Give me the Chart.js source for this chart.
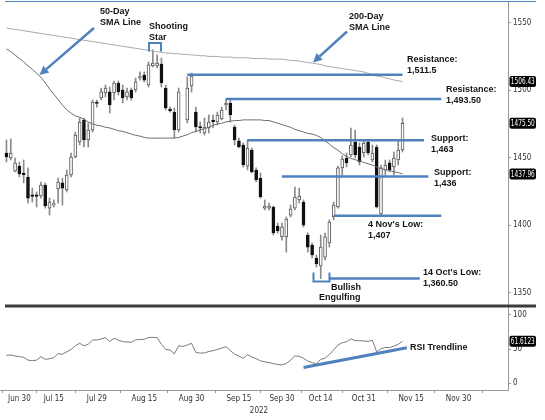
<!DOCTYPE html>
<html>
<head>
<meta charset="utf-8">
<script src="https://cdn.jsdelivr.net/npm/chart.js@4.4.0/dist/chart.umd.min.js"></script>
<style>
  html, body { margin: 0; padding: 0; background: #fff; }
  canvas { display: block; }
</style>
</head>
<body>
<canvas id="chart" width="545" height="420"></canvas>
<script>
// trading days with a candle
const days = [
  'Jun 27', 'Jun 28', 'Jun 29', 'Jun 30', 'Jul 1', 'Jul 5', 'Jul 6', 'Jul 7', 'Jul 8', 'Jul 12',
  'Jul 13', 'Jul 15', 'Jul 18', 'Jul 19', 'Jul 20', 'Jul 21', 'Jul 22', 'Jul 25', 'Jul 26', 'Jul 27',
  'Jul 28', 'Jul 29', 'Aug 1', 'Aug 2', 'Aug 3', 'Aug 4', 'Aug 5', 'Aug 8', 'Aug 9', 'Aug 10',
  'Aug 11', 'Aug 12', 'Aug 15', 'Aug 16', 'Aug 17', 'Aug 18', 'Aug 19', 'Aug 22', 'Aug 23', 'Aug 24',
  'Aug 25', 'Aug 26', 'Aug 29', 'Aug 30', 'Aug 31', 'Sep 1', 'Sep 2', 'Sep 6', 'Sep 7', 'Sep 8',
  'Sep 9', 'Sep 12', 'Sep 13', 'Sep 14', 'Sep 15', 'Sep 16', 'Sep 19', 'Sep 20', 'Sep 21', 'Sep 22',
  'Sep 23', 'Sep 26', 'Sep 27', 'Sep 28', 'Sep 30', 'Oct 3', 'Oct 4', 'Oct 5', 'Oct 6', 'Oct 7',
  'Oct 11', 'Oct 12', 'Oct 13', 'Oct 14', 'Oct 17', 'Oct 18', 'Oct 19', 'Oct 20', 'Oct 21', 'Oct 25',
  'Oct 26', 'Oct 27', 'Oct 28', 'Oct 31', 'Nov 1', 'Nov 2', 'Nov 3', 'Nov 4', 'Nov 7', 'Nov 8',
  'Nov 9', 'Nov 10', 'Nov 11'
];
// empty room on the axis
const futureDays = [
  'Nov 14', 'Nov 15', 'Nov 16', 'Nov 17', 'Nov 18', 'Nov 21', 'Nov 22', 'Nov 23', 'Nov 24', 'Nov 25',
  'Nov 28', 'Nov 29', 'Nov 30', 'Dec 1', 'Dec 2', 'Dec 5', 'Dec 6', 'Dec 7', 'Dec 8', 'Dec 9',
  'Dec 12', 'Dec 13', 'Dec 14', 'Dec 15'
];

const open = [
  1453.5, 1449.8, 1440.1, 1443.8, 1437.9, 1435.7, 1421.6, 1421.6, 1421.6, 1429.8,
  1412.7, 1414.9, 1426.8, 1431.3, 1426.1, 1437.2, 1450.5, 1461.6, 1477.9, 1463.1,
  1470.5, 1490.5, 1494.2, 1497.9, 1498.7, 1497.9, 1505.3, 1500.1, 1495.0, 1500.1,
  1500.1, 1509.0, 1511.2, 1503.8, 1517.9, 1517.9, 1519.4, 1501.6, 1485.3, 1483.8,
  1470.5, null, 1477.9, 1503.1, 1483.8, 1472.7, 1468.3, 1472.0, 1477.9, 1476.4,
  1478.7, 1489.0, 1490.5, 1472.7, 1462.4, 1459.4, 1443.8, 1455.7, 1440.9, 1434.9,
  1412.7, 1412.7, 1413.5, 1399.4, 1391.3, 1391.3, 1407.5, 1412.7, 1418.7, 1417.2,
  1392.7, 1385.3, 1375.7, 1369.8, 1376.4, 1386.8, 1406.1, 1413.5, 1442.4, 1449.8,
  1452.0, 1461.6, 1457.9, 1453.5, 1461.6, 1448.3, 1457.9, 1408.3, 1440.9, 1446.1,
  1443.1, 1448.3, 1455.7
];
const high = [
  1463.1, 1463.8, 1449.8, 1446.8, 1448.3, 1442.4, 1427.5, 1424.6, 1432.0, 1431.3,
  1420.1, 1418.7, 1434.9, 1434.9, 1440.9, 1453.5, 1469.0, 1479.4, 1479.4, 1475.7,
  1492.7, 1492.7, 1501.6, 1503.8, 1502.4, 1506.8, 1506.8, 1503.8, 1501.6, 1501.6,
  1509.0, 1513.5, 1513.5, 1520.9, 1529.8, 1526.1, 1523.8, 1503.8, 1487.5, 1486.8,
  1501.6, null, 1509.8, 1512.7, 1487.5, 1476.4, 1479.4, 1481.6, 1481.6, 1483.8,
  1487.5, 1493.5, 1492.7, 1474.2, 1464.6, 1460.9, 1463.1, 1457.2, 1442.4, 1438.7,
  1418.7, 1416.4, 1414.2, 1401.6, 1401.6, 1406.1, 1414.9, 1428.3, 1427.5, 1418.7,
  1394.2, 1386.8, 1377.9, 1392.7, 1394.2, 1403.9, 1417.2, 1443.8, 1451.3, 1453.5,
  1472.0, 1470.5, 1460.9, 1463.1, 1463.1, 1459.4, 1459.4, 1444.6, 1448.3, 1448.3,
  1454.2, 1463.1, 1479.4
];
const low = [
  1446.8, 1448.3, 1439.4, 1435.7, 1431.3, 1416.4, 1417.2, 1413.5, 1420.1, 1412.7,
  1407.5, 1413.5, 1416.4, 1414.9, 1424.6, 1435.7, 1449.8, 1459.4, 1457.9, 1457.9,
  1469.0, 1487.5, 1492.7, 1495.0, 1483.1, 1492.7, 1496.4, 1490.5, 1492.7, 1492.7,
  1498.7, 1507.5, 1506.1, 1502.4, 1517.2, 1516.4, 1502.4, 1485.3, 1483.8, 1464.6,
  1469.0, null, 1475.7, 1498.7, 1469.0, 1468.3, 1466.8, 1468.3, 1472.0, 1474.2,
  1477.9, 1485.3, 1476.4, 1459.4, 1457.2, 1443.1, 1440.9, 1438.7, 1432.0, 1420.1,
  1411.3, 1411.3, 1392.7, 1394.2, 1389.0, 1380.1, 1406.1, 1411.3, 1416.4, 1398.7,
  1380.1, 1375.7, 1369.0, 1360.5, 1374.2, 1383.8, 1403.9, 1412.7, 1437.2, 1443.1,
  1450.5, 1449.8, 1444.6, 1450.5, 1452.0, 1446.8, 1412.7, 1407.0, 1437.2, 1439.4,
  1437.2, 1444.6, 1454.2
];
const close = [
  1450.5, 1453.5, 1446.1, 1437.9, 1437.5, 1420.1, 1421.3, 1421.3, 1429.8, 1414.2,
  1417.2, 1415.7, 1432.0, 1427.5, 1437.2, 1450.5, 1466.8, 1476.4, 1463.1, 1470.5,
  1491.2, 1490.1, 1498.7, 1501.6, 1489.0, 1505.3, 1498.7, 1494.2, 1498.7, 1494.2,
  1506.1, 1509.4, 1507.5, 1518.7, 1520.1, 1520.1, 1505.3, 1486.8, 1484.9, 1470.5,
  1498.7, null, 1501.6, 1510.5, 1472.7, 1472.0, 1472.7, 1476.4, 1476.4, 1481.6,
  1485.3, 1490.5, 1481.6, 1463.1, 1457.9, 1444.6, 1457.2, 1439.4, 1433.5, 1420.9,
  1414.2, 1414.2, 1394.2, 1395.7, 1398.7, 1404.6, 1412.0, 1420.9, 1421.6, 1400.1,
  1383.8, 1377.9, 1371.3, 1383.8, 1391.3, 1402.4, 1414.9, 1442.4, 1449.0, 1446.1,
  1459.4, 1452.0, 1446.8, 1460.9, 1453.5, 1453.5, 1413.5, 1442.4, 1444.6, 1440.9,
  1449.8, 1455.7, 1475.5
];
const sma50 = [
  1530.5, 1528.5, 1526, 1523.5, 1521, 1518, 1515.5, 1512.5, 1509.5, 1505.5,
  1501, 1497, 1493, 1489, 1485.5, 1483, 1481, 1480, 1478.5, 1476.5,
  1475, 1474, 1473.5, 1472.5, 1472, 1471, 1470, 1469.5, 1468.5, 1467.5,
  1466.5, 1466, 1465, 1464.5, 1464.5, 1464.5, 1464.5, 1464.5, 1464.5, 1464.5,
  1465, 1466, 1467, 1468.5, 1469.5, 1470.5, 1471.5, 1472.5, 1474, 1475,
  1475.5, 1476.5, 1477, 1477.5, 1477.5, 1478, 1478, 1478, 1478, 1478,
  1477.5, 1477.5, 1476.5, 1475.5, 1474.5, 1473.5, 1472.5, 1471, 1470, 1469,
  1468, 1467.5, 1466.5, 1465, 1462.5, 1460, 1457.5, 1455.5, 1453, 1451,
  1449.5, 1448.5, 1447.5, 1446.5, 1445.5, 1444.5, 1443, 1442, 1441, 1440.5,
  1439.5, 1439, 1437.96
];
const sma200 = [
  1546, 1545.5, 1545, 1544.5, 1544, 1543.5, 1543, 1542.5, 1542, 1541.5,
  1541, 1540.5, 1540, 1539.5, 1539, 1538.5, 1538, 1537.5, 1537, 1536.5,
  1536, 1535.5, 1535, 1534.5, 1534, 1533.5, 1533, 1532.5, 1532, 1531.5,
  1531, 1530.5, 1530, 1529.5, 1529, 1528.5, 1528, 1527.5, 1527.5, 1527,
  1527, 1526.5, 1526.5, 1526, 1526, 1525.5, 1525.5, 1525, 1525, 1525,
  1524.5, 1524.5, 1524.5, 1524, 1524, 1524, 1524, 1523.5, 1523.5, 1523.5,
  1523.5, 1523, 1523, 1523, 1523, 1522.5, 1522, 1522, 1521.5, 1521,
  1520.5, 1520, 1519.5, 1519, 1518, 1517.5, 1517, 1516.5, 1516, 1515.5,
  1515, 1514.5, 1514, 1513.5, 1512.5, 1511.5, 1510.5, 1510, 1509, 1508.5,
  1507.5, 1507, 1506.43
];
const rsi = [
  41, 41.4, 40, 39, 38, 34, 33, 34, 39, 35,
  36, 37.5, 43.5, 42.5, 46, 49.5, 55, 58.6, 55, 57,
  63.4, 63.4, 65, 66.8, 61, 65.9, 63, 61, 60.5, 60,
  63.8, 64, 64.4, 67, 67.3, 66.8, 57, 49.5, 48.8, 43,
  55, 54, 56, 58.6, 45, 44.3, 44.5, 46.5, 47.8, 49.5,
  51.5, 53.6, 48, 42.5, 40, 36.6, 42, 38.5, 36, 33,
  31.4, 30.4, 28.8, 27.5, 27, 29, 34, 40, 39.5, 36.6,
  32.5, 30.2, 28.8, 35, 36.8, 42, 48.8, 56, 59.5, 60.8,
  65, 62.5, 62.3, 62, 61.3, 63, 46, 50.5, 52.5, 52.2,
  54.5, 57, 61.6123
];

const tickLabels = ['Jun 30', 'Jul 15', 'Jul 29', 'Aug 15', 'Aug 30', 'Sep 15', 'Sep 30', 'Oct 14', 'Oct 31', 'Nov 15', 'Nov 30'];
const priceTicks = [1350, 1400, 1450, 1500, 1550];
const rsiTicks = [0, 50, 100];

// support / resistance levels drawn on the chart
const levels = [1511.5, 1493.5, 1463, 1436, 1407, 1360.5];
const levelFrom = ['Aug 29', 'Sep 12', 'Sep 19', 'Sep 30', 'Oct 19', 'Oct 18'];
const levelTo = ['Nov 11', 'Nov 24', 'Nov 18', 'Nov 21', 'Nov 24', 'Nov 17'];
const rsiTrendDays = ['Oct 7', 'Nov 14'];
const rsiTrendValues = [23, 52];

const BLUE = '#4f81bd';
const NARROW = "'Liberation Sans Narrow', 'DejaVu Sans Condensed', sans-serif";
const BOLD = "bold 9px 'Liberation Sans', Arial, sans-serif";

const labels = ['Jun 24'].concat(days, futureDays);

const candles = days
  .map((d, i) => ({ x: d, o: open[i], h: high[i], l: low[i], c: close[i] }))
  .filter(k => k.o !== null);

const levelSets = levels.map((v, i) => ({
  type: 'line',
  data: [{ x: levelFrom[i], y: v }, { x: levelTo[i], y: v }],
  borderColor: BLUE,
  borderWidth: 2.5,
  pointRadius: 0,
  yAxisID: 'y'
}));

// notes written on the picture, in pixels
const notes = [
  { lines: ['50-Day', 'SMA Line'], x: 100, y: 12 },
  { lines: ['Shooting', 'Star'], x: 149, y: 27 },
  { lines: ['200-Day', 'SMA Line'], x: 349, y: 17 },
  { lines: ['Resistance:', '1,511.5'], x: 407, y: 60 },
  { lines: ['Resistance:', '1,493.50'], x: 446, y: 90 },
  { lines: ['Support:', '1,463'], x: 431, y: 139 },
  { lines: ['Support:', '1,436'], x: 434, y: 173 },
  { lines: ["4 Nov's Low:", '1,407'], x: 368, y: 225 },
  { lines: ["14 Oct's Low:", '1,360.50'], x: 423, y: 273 },
  { lines: ['Bullish'], x: 331, y: 287.5 },
  { lines: ['Engulfing'], x: 319, y: 297.5 },
  { lines: ['RSI Trendline'], x: 410, y: 347.5 }
];

function arrow(ctx, x1, y1, x2, y2) {
  const a = Math.atan2(y2 - y1, x2 - x1);
  const len = 9, half = 4.5;
  const bx = x2 - len * Math.cos(a), by = y2 - len * Math.sin(a);
  ctx.strokeStyle = BLUE;
  ctx.fillStyle = BLUE;
  ctx.lineWidth = 2.5;
  ctx.beginPath();
  ctx.moveTo(x1, y1);
  ctx.lineTo(bx, by);
  ctx.stroke();
  ctx.beginPath();
  ctx.moveTo(x2, y2);
  ctx.lineTo(bx + half * Math.sin(a), by - half * Math.cos(a));
  ctx.lineTo(bx - half * Math.sin(a), by + half * Math.cos(a));
  ctx.closePath();
  ctx.fill();
}

function valueBox(ctx, scale, v, txt) {
  const y = scale.getPixelForValue(v);
  ctx.fillStyle = '#000';
  ctx.beginPath();
  ctx.roundRect(509.5, y - 5.5, 26.5, 11, 2);
  ctx.fill();
  ctx.fillStyle = '#fff';
  ctx.font = '8.5px ' + NARROW;
  ctx.textAlign = 'center';
  ctx.textBaseline = 'middle';
  // squeeze the text to the box like the narrow original
  const w = ctx.measureText(txt).width;
  const sx = Math.min(1, 24 / w);
  ctx.save();
  ctx.translate(522.8, y + 0.5);
  ctx.scale(sx, 1);
  ctx.fillText(txt, 0, 0);
  ctx.restore();
}

const decorations = {
  id: 'decorations',
  afterDraw(chart) {
    const ctx = chart.ctx;
    const y = chart.scales.y, r = chart.scales.rsi;
    ctx.save();

    // frame lines
    ctx.strokeStyle = BLUE;
    ctx.lineWidth = 1.2;
    ctx.beginPath();
    ctx.moveTo(5, 1.5);
    ctx.lineTo(536, 1.5);
    ctx.stroke();
    ctx.strokeStyle = '#3c3c3c';
    ctx.lineWidth = 3;
    ctx.beginPath();
    ctx.moveTo(5, 306);
    ctx.lineTo(536, 306);
    ctx.stroke();

    // arrows to the moving averages
    arrow(ctx, 94, 28, 39.5, 75);
    arrow(ctx, 347, 31.5, 313, 62.5);

    // brackets
    ctx.strokeStyle = BLUE;
    ctx.lineWidth = 2;
    ctx.beginPath();
    ctx.moveTo(149, 51.5);
    ctx.lineTo(149, 43);
    ctx.lineTo(161, 43);
    ctx.lineTo(161, 51.5);
    ctx.stroke();
    ctx.beginPath();
    ctx.moveTo(313.5, 272.5);
    ctx.lineTo(313.5, 281.5);
    ctx.lineTo(329.5, 281.5);
    ctx.lineTo(329.5, 272.5);
    ctx.stroke();

    // notes
    ctx.font = BOLD;
    ctx.fillStyle = '#141414';
    ctx.textAlign = 'left';
    ctx.textBaseline = 'middle';
    notes.forEach(n => n.lines.forEach((t, i) => ctx.fillText(t, n.x, n.y + i * 10.8)));

    // year under the date axis
    ctx.font = '8px ' + NARROW;
    ctx.fillStyle = '#333';
    ctx.textAlign = 'center';
    ctx.fillText('2022', 259, 411);

    // last values on the right axis
    const last = days.length - 1;
    valueBox(ctx, y, sma200[last], sma200[last].toFixed(2));
    valueBox(ctx, y, close[last], close[last].toFixed(2));
    valueBox(ctx, y, sma50[last], sma50[last].toFixed(2));
    valueBox(ctx, r, rsi[last], rsi[last].toFixed(4));
    ctx.restore();
  }
};

const tickFont = { family: NARROW, size: 8 };

new Chart(document.getElementById('chart'), {
  type: 'bar',
  data: {
    labels: labels,
    datasets: [
      ...levelSets,
      {
        type: 'line',
        data: rsiTrendDays.map((d, i) => ({ x: d, y: rsiTrendValues[i] })),
        borderColor: BLUE,
        borderWidth: 3,
        pointRadius: 0,
        yAxisID: 'rsi'
      },
      {
        type: 'line',
        data: days.map((d, i) => ({ x: d, y: sma200[i] })),
        borderColor: '#a8a8a8',
        borderWidth: 1,
        pointRadius: 0,
        yAxisID: 'y'
      },
      {
        type: 'line',
        data: days.map((d, i) => ({ x: d, y: sma50[i] })),
        borderColor: '#6e6e6e',
        borderWidth: 1,
        pointRadius: 0,
        yAxisID: 'y'
      },
      {
        type: 'line',
        data: days.map((d, i) => ({ x: d, y: rsi[i] })),
        borderColor: '#7a7a7a',
        borderWidth: 1,
        pointRadius: 0,
        yAxisID: 'rsi'
      },
      {
        // candle bodies
        data: candles.map(k => ({ x: k.x, y: [k.o, k.c] })),
        backgroundColor: candles.map(k => k.c >= k.o ? '#ffffff' : '#111111'),
        borderColor: candles.map(k => k.c >= k.o ? '#5a5a5a' : '#111111'),
        borderWidth: 1,
        borderSkipped: false,
        barThickness: 3,
        minBarLength: 1.5,
        grouped: false,
        yAxisID: 'y'
      },
      {
        // wicks
        data: candles.map(k => ({ x: k.x, y: [k.l, k.h] })),
        backgroundColor: '#8a8a8a',
        barThickness: 1,
        grouped: false,
        yAxisID: 'y'
      }
    ]
  },
  options: {
    responsive: false,
    animation: false,
    events: [],
    layout: { padding: { top: 2, left: 0, right: 0, bottom: 0 } },
    plugins: { legend: { display: false }, tooltip: { enabled: false } },
    scales: {
      x: {
        type: 'category',
        offset: true,
        grid: { display: true, drawOnChartArea: false, offset: true, tickLength: 3, color: '#999' },
        border: { color: '#999' },
        ticks: { autoSkip: false, maxRotation: 0, padding: 1, color: '#333', font: tickFont },
        afterBuildTicks: s => { s.ticks = s.ticks.filter(t => tickLabels.includes(labels[t.value])); },
        afterFit: s => { s.height = 30; s.paddingLeft = 0; s.paddingRight = 0; }
      },
      y: {
        type: 'linear',
        position: 'right',
        stack: 'panes',
        stackWeight: 303,
        min: 1340.9,
        max: 1565.3,
        grid: { drawOnChartArea: false, tickLength: 3, color: '#999' },
        border: { color: '#999' },
        ticks: { color: '#333', font: tickFont, padding: 2, callback: v => String(v) },
        afterBuildTicks: s => { s.ticks = priceTicks.map(v => ({ value: v })); },
        afterFit: s => { s.width = 37; s.paddingTop = 0; s.paddingBottom = 0; }
      },
      rsi: {
        type: 'linear',
        position: 'right',
        stack: 'panes',
        stackWeight: 85,
        min: -9.8,
        max: 114.6,
        grid: { drawOnChartArea: false, tickLength: 3, color: '#999' },
        border: { color: '#999' },
        ticks: { color: '#333', font: tickFont, padding: 2, callback: v => String(v) },
        afterBuildTicks: s => { s.ticks = rsiTicks.map(v => ({ value: v })); },
        afterFit: s => { s.width = 37; s.paddingTop = 0; s.paddingBottom = 0; }
      }
    }
  },
  plugins: [decorations]
});
</script>
</body>
</html>
